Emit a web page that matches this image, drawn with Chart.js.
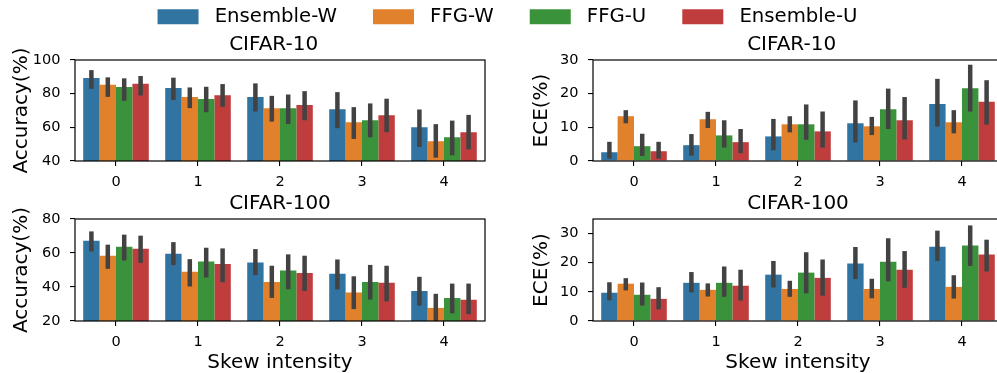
<!DOCTYPE html>
<html>
<head>
<meta charset="utf-8">
<script src="https://cdn.jsdelivr.net/npm/chart.js@4"></script>
<style>
  html, body { margin: 0; padding: 0; width: 997px; height: 373px; overflow: hidden; background: #fff; }
  canvas { position: absolute; }
</style>
</head>
<body>
<canvas id="legend" width="1015" height="200" style="left:0;top:-29px"></canvas>
<canvas id="acc10" width="500" height="158" style="left:0;top:33px"></canvas>
<canvas id="ece10" width="520" height="158" style="left:500px;top:33px"></canvas>
<canvas id="acc100" width="500" height="183" style="left:0;top:192px"></canvas>
<canvas id="ece100" width="520" height="183" style="left:500px;top:192px"></canvas>
<script>
// categories / series
const skewLevels = ['0', '1', '2', '3', '4'];
const methods = ['Ensemble-W', 'FFG-W', 'FFG-U', 'Ensemble-U'];
const colors = ['#3274a1', '#e1812c', '#3a923a', '#c03d3e'];

// tick labels
const accTicks10 = [40, 60, 80, 100];
const eceTicks10 = [0, 10, 20, 30];
const accTicks100 = [20, 40, 60, 80];
const eceTicks100 = [0, 10, 20, 30];

// CIFAR-10 accuracy: mean, ci low, ci high (one row per method)
const acc10Mean = [
  [89.3, 83.3, 78.0, 70.8, 60.1],
  [85.3, 78.0, 71.4, 63.0, 51.7],
  [83.9, 76.8, 71.4, 64.2, 54.1],
  [85.9, 79.1, 73.2, 67.2, 57.1]
];
const acc10Lo = [
  [82.9, 76.2, 69.4, 59.5, 48.3],
  [78.1, 71.4, 63.4, 53.1, 42.0],
  [75.8, 69.0, 62.0, 54.1, 43.4],
  [78.9, 72.2, 64.2, 57.1, 46.9]
];
const acc10Hi = [
  [94.0, 89.5, 86.1, 80.9, 70.6],
  [89.7, 83.7, 78.7, 72.0, 61.9],
  [89.1, 84.1, 79.5, 74.2, 64.0],
  [90.5, 85.7, 81.5, 77.0, 67.4]
];

// CIFAR-10 ECE
const ece10Mean = [
  [2.6, 4.7, 7.3, 11.2, 16.9],
  [13.3, 12.4, 10.9, 10.3, 11.5],
  [4.4, 7.6, 10.9, 15.4, 21.6],
  [2.9, 5.6, 8.8, 12.1, 17.6]
];
const ece10Lo = [
  [0.7, 1.6, 3.2, 5.5, 10.2],
  [11.2, 9.8, 8.5, 7.7, 8.2],
  [1.5, 4.0, 6.3, 9.5, 14.7],
  [0.7, 2.3, 4.0, 6.4, 10.8]
];
const ece10Hi = [
  [5.7, 8.0, 12.5, 18.0, 24.4],
  [15.1, 14.6, 13.3, 13.1, 15.1],
  [8.1, 12.1, 16.8, 21.5, 28.6],
  [5.7, 9.5, 14.7, 19.0, 24.0]
];

// CIFAR-100 accuracy
const acc100Mean = [
  [67.2, 59.5, 54.4, 47.8, 37.7],
  [58.4, 48.9, 43.0, 36.7, 27.7],
  [63.7, 55.0, 49.7, 43.0, 33.6],
  [62.5, 53.6, 48.3, 42.5, 32.5]
];
const acc100Lo = [
  [60.9, 52.9, 47.0, 38.6, 29.0],
  [50.7, 40.3, 33.6, 27.0, 19.8],
  [55.6, 45.6, 38.7, 32.6, 24.5],
  [54.2, 42.8, 37.7, 31.5, 24.0]
];
const acc100Hi = [
  [72.7, 66.4, 62.3, 56.2, 46.0],
  [64.9, 56.4, 52.5, 46.3, 36.0],
  [70.8, 63.1, 59.2, 53.0, 42.0],
  [70.2, 62.7, 58.4, 52.5, 42.0]
];

// CIFAR-100 ECE
const ece100Mean = [
  [9.7, 13.1, 15.9, 19.7, 25.5],
  [12.8, 10.7, 11.0, 11.0, 11.7],
  [9.0, 13.1, 16.6, 20.3, 25.9],
  [7.6, 12.1, 14.8, 17.6, 22.8]
];
const ece100Lo = [
  [7.1, 9.8, 11.5, 14.4, 20.6],
  [10.5, 8.4, 8.3, 7.8, 7.7],
  [5.3, 8.3, 9.5, 13.6, 18.9],
  [4.0, 7.0, 8.7, 11.4, 17.0]
];
const ece100Hi = [
  [13.3, 16.8, 20.6, 25.4, 31.0],
  [14.7, 12.9, 13.8, 14.5, 15.7],
  [13.2, 18.7, 23.6, 28.4, 32.8],
  [11.6, 17.6, 21.1, 24.0, 27.9]
];

Chart.defaults.font.family = "'DejaVu Sans', sans-serif";
Chart.defaults.color = '#000';

// draws the ci line on top of each bar
const errorBars = {
  id: 'errorBars',
  afterDatasetsDraw(chart) {
    const { ctx, chartArea } = chart;
    const y = chart.scales.y;
    ctx.save();
    ctx.beginPath();
    ctx.rect(chartArea.left, chartArea.top, chartArea.width, chartArea.height);
    ctx.clip();
    ctx.strokeStyle = '#424242';
    ctx.lineWidth = 4.5;
    chart.data.datasets.forEach((ds, i) => {
      chart.getDatasetMeta(i).data.forEach((bar, j) => {
        ctx.beginPath();
        ctx.moveTo(bar.x, y.getPixelForValue(ds.lo[j]));
        ctx.lineTo(bar.x, y.getPixelForValue(ds.hi[j]));
        ctx.stroke();
      });
    });
    ctx.restore();
  }
};

// box round the plot area (matplotlib spines)
const frame = {
  id: 'frame',
  afterDraw(chart) {
    const { ctx, chartArea: a } = chart;
    ctx.save();
    ctx.strokeStyle = '#000';
    ctx.lineWidth = 1.2;
    ctx.strokeRect(a.left, a.top, a.right - a.left, a.bottom - a.top);
    ctx.restore();
  }
};

function makePanel(id, title, yTitle, means, lo, hi, yMin, yMax, yTicks, o) {
  const datasets = methods.map((m, i) => ({
    label: m,
    data: means[i],
    lo: lo[i],
    hi: hi[i],
    backgroundColor: colors[i],
    borderWidth: 0,
    categoryPercentage: 0.8,
    barPercentage: 1.0
  }));
  return new Chart(document.getElementById(id), {
    type: 'bar',
    data: { labels: skewLevels, datasets },
    options: {
      responsive: false,
      animation: false,
      layout: { padding: { left: 0, right: o.padRight, top: 0, bottom: 0 } },
      plugins: {
        legend: { display: false },
        tooltip: { enabled: false },
        title: {
          display: true,
          text: title,
          fullSize: false,
          color: '#000',
          font: { size: 20, weight: 'normal' },
          padding: { top: 0, bottom: 3 }
        }
      },
      scales: {
        x: {
          type: 'category',
          offset: true,
          border: { display: false },
          grid: { offset: false, drawOnChartArea: false, drawTicks: true, tickLength: 5, color: '#000', lineWidth: 1.1 },
          ticks: { font: { size: 14.5 }, padding: 7.5, maxRotation: 0 },
          title: { display: !!o.xTitle, text: o.xTitle || '', font: { size: 20 }, padding: { top: 0, bottom: 0 } },
          afterFit(s) { s.height = o.xHeight; }
        },
        y: {
          min: yMin,
          max: yMax,
          border: { display: false },
          grid: { drawOnChartArea: false, drawTicks: true, tickLength: 5, color: '#000', lineWidth: 1.1 },
          ticks: { font: { size: 14.5 }, padding: 9.5 },
          title: { display: true, text: yTitle, font: { size: 20 }, padding: { top: o.yTitlePad, bottom: 0 } },
          afterBuildTicks(s) { s.ticks = yTicks.map(v => ({ value: v })); },
          afterFit(s) { s.width = o.yWidth; }
        }
      }
    },
    plugins: [errorBars, frame]
  });
}

makePanel('acc10', 'CIFAR-10\u2007', 'Accuracy(%)', acc10Mean, acc10Lo, acc10Hi, 40, 100, accTicks10,
  { padRight: 15, yWidth: 75, xHeight: 30, yTitlePad: 10 });
makePanel('ece10', 'CIFAR-10\u2007', 'ECE(%)', ece10Mean, ece10Lo, ece10Hi, 0, 30, eceTicks10,
  { padRight: 17, yWidth: 93, xHeight: 30, yTitlePad: 30 });
makePanel('acc100', 'CIFAR-100', 'Accuracy(%)', acc100Mean, acc100Lo, acc100Hi, 20, 80, accTicks100,
  { padRight: 15, yWidth: 75, xHeight: 54, yTitlePad: 10, xTitle: 'Skew intensity' });
makePanel('ece100', 'CIFAR-100', 'ECE(%)', ece100Mean, ece100Lo, ece100Hi, 0, 35, eceTicks100,
  { padRight: 17, yWidth: 93, xHeight: 54, yTitlePad: 30, xTitle: 'Skew intensity' });

// shared legend across the top
new Chart(document.getElementById('legend'), {
  type: 'bar',
  data: {
    labels: skewLevels,
    datasets: methods.map((m, i) => ({ label: ' ' + m, data: [], backgroundColor: colors[i], borderWidth: 0 }))
  },
  options: {
    responsive: false,
    animation: false,
    scales: { x: { display: false }, y: { display: false } },
    plugins: {
      tooltip: { enabled: false },
      legend: {
        display: true,
        position: 'top',
        labels: { boxWidth: 41, boxHeight: 15, padding: 36, color: '#000', font: { size: 19.7 } }
      }
    }
  }
});
</script>
</body>
</html>
